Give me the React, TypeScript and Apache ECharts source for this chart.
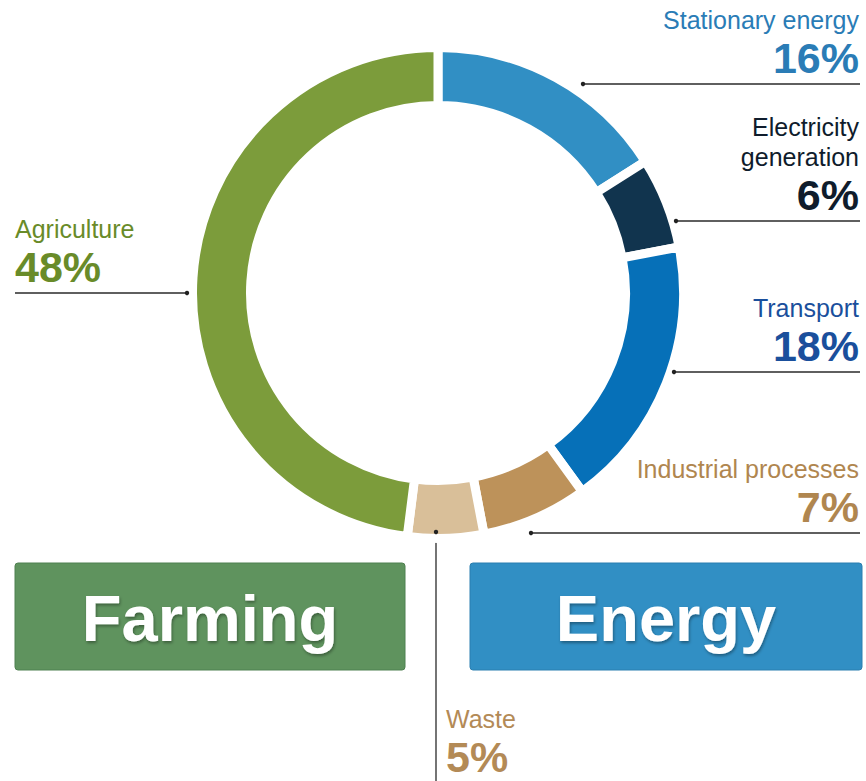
import React, { useEffect, useRef } from 'react';
import * as echarts from 'echarts';

// ---- data ----
const sectors = ['Stationary energy', 'Electricity generation', 'Transport', 'Industrial processes', 'Waste', 'Agriculture'];
const sectorLabelLines = [['Stationary energy'], ['Electricity', 'generation'], ['Transport'], ['Industrial processes'], ['Waste'], ['Agriculture']];
const shares = [16, 6, 18, 7, 5, 48];
const sliceColors = ['#318fc4', '#11344e', '#0670b8', '#bd925a', '#d9bf99', '#7c9c3b'];
const textColors = ['#2a7cb6', '#0f1c2c', '#1a4f9c', '#b0864f', '#b38a56', '#698b29'];
const groups = ['Farming', 'Energy'];
const groupColors = ['#5f935e', '#318fc4'];
const groupBorders = ['#4f8050', '#2a7fb0'];

// ---- layout ----
const FONT = '"Liberation Sans", Arial, Helvetica, sans-serif';
const CX = 438;
const CY = 293;
// leader line per slice: side, y of horizontal line, x where it touches the ring
const leaders = [
  { side: 'right', y: 84, from: 583 },
  { side: 'right', y: 221, from: 676 },
  { side: 'right', y: 372, from: 674 },
  { side: 'right', y: 533, from: 531 },
  { side: 'down', x: 436, from: 532 },
  { side: 'left', y: 293, from: 187 },
];
const groupBoxes = [
  { x: 15, y: 563, w: 390, h: 107 },
  { x: 470, y: 563, w: 392, h: 107 },
];

export default function App() {
  const ref = useRef<HTMLDivElement>(null);
  useEffect(() => {
    if (!ref.current) return;
    const chart = echarts.init(ref.current, undefined, { renderer: 'svg' });

    const data = sectors.map((name, i) => ({
      name,
      value: shares[i],
      itemStyle: { color: sliceColors[i] },
      label: {
        rich: {
          n: { fontSize: 25, lineHeight: 30, color: textColors[i], fontFamily: FONT },
          v: { fontSize: 43, lineHeight: 46, fontWeight: 'bold', color: textColors[i], fontFamily: FONT },
        },
      },
    }));

    const dots: any[] = leaders.map((L: any) => ({
      type: 'circle',
      silent: true,
      shape: L.side === 'down' ? { cx: L.x, cy: L.from, r: 2.2 } : { cx: L.from, cy: L.y, r: 2.2 },
      style: { fill: '#222' },
      z: 100,
    }));

    const boxes: any[] = groups.map((g, i) => {
      const b = groupBoxes[i];
      return {
        type: 'group',
        children: [
          {
            type: 'rect',
            shape: { x: b.x, y: b.y, width: b.w, height: b.h, r: 3 },
            style: { fill: groupColors[i], stroke: groupBorders[i], lineWidth: 1 },
          },
          {
            type: 'text',
            x: b.x + b.w / 2,
            y: b.y + b.h / 2 + 2,
            style: {
              text: g,
              align: 'center',
              verticalAlign: 'middle',
              fontSize: 65,
              fontWeight: 'bold',
              fontFamily: FONT,
              fill: '#ffffff',
              textShadowColor: 'rgba(0,0,0,0.35)',
              textShadowBlur: 3,
              textShadowOffsetX: 1,
              textShadowOffsetY: 2,
            },
          },
        ],
      };
    });

    chart.setOption({
      animation: false,
      backgroundColor: '#ffffff',
      series: [
        {
          type: 'pie',
          silent: true,
          center: [CX, CY],
          radius: [187.5, 245.5],
          startAngle: 90,
          clockwise: true,
          avoidLabelOverlap: false,
          itemStyle: { borderColor: '#ffffff', borderWidth: 9, borderJoin: 'miter' },
          label: {
            show: true,
            position: 'outside',
            alignTo: 'none',
            formatter: (p: any) =>
              sectorLabelLines[p.dataIndex].map((s) => `{n|${s}}`).join('\n') + `\n{v|${p.value}%}`,
          },
          labelLine: { show: true, smooth: false, lineStyle: { color: '#2a2a2a', width: 1.3 } },
          labelLayout: (params: any) => {
            const L: any = leaders[params.dataIndex];
            if (L.side === 'right') {
              return {
                x: 859,
                y: L.y - 3,
                align: 'right',
                verticalAlign: 'bottom',
                labelLinePoints: [[L.from, L.y], [(L.from + 860) / 2, L.y], [860, L.y]],
              };
            }
            if (L.side === 'left') {
              return {
                x: 15,
                y: L.y - 3,
                align: 'left',
                verticalAlign: 'bottom',
                labelLinePoints: [[L.from, L.y], [(L.from + 15) / 2, L.y], [15, L.y]],
              };
            }
            return {
              x: 446,
              y: 780,
              align: 'left',
              verticalAlign: 'bottom',
              labelLinePoints: [[L.x, L.from], [L.x, 660], [L.x, 781]],
            };
          },
          data,
        },
      ],
      graphic: [...boxes, ...dots],
    });

    return () => chart.dispose();
  }, []);

  return <div ref={ref} style={{ position: 'fixed', left: 0, top: 0, width: 866, height: 781 }} />;
}
